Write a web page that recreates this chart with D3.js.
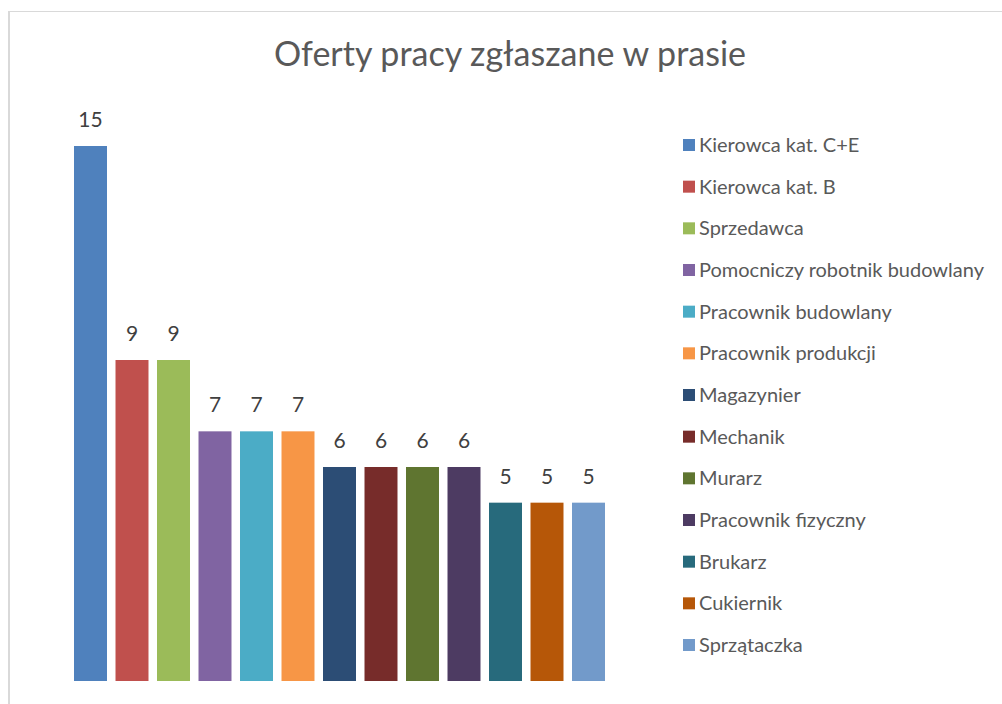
<!DOCTYPE html>
<html>
<head>
<meta charset="utf-8">
<script src="https://cdn.jsdelivr.net/npm/d3@7"></script>
<style>
  body { margin: 0; background: #fff; }
  svg text { font-family: Lato, "Open Sans", sans-serif; }
</style>
</head>
<body>
<div id="chart"></div>
<script>
  // job offers from the press
  var categories = ["Kierowca kat. C+E", "Kierowca kat. B", "Sprzedawca", "Pomocniczy robotnik budowlany",
    "Pracownik budowlany", "Pracownik produkcji", "Magazynier", "Mechanik", "Murarz",
    "Pracownik fizyczny", "Brukarz", "Cukiernik", "Sprzątaczka"];
  var values = [15, 9, 9, 7, 7, 7, 6, 6, 6, 6, 5, 5, 5];
  var colors = ["#4F81BD", "#C0504D", "#9BBB59", "#8064A2", "#4BACC6", "#F79646",
    "#2C4D75", "#772C2A", "#5F7530", "#4D3B62", "#276A7C", "#B65708", "#729ACA"];
  var title = "Oferty pracy zgłaszane w prasie";

  var width = 1002, height = 704;

  var svg = d3.select("#chart").append("svg")
    .attr("width", width)
    .attr("height", height);

  //chart frame
  svg.append("line").attr("x1", 9).attr("x2", 9).attr("y1", 11).attr("y2", height)
    .attr("stroke", "#d9d9d9").attr("stroke-width", 2);
  svg.append("line").attr("x1", 8).attr("x2", width).attr("y1", 11.5).attr("y2", 11.5)
    .attr("stroke", "#d9d9d9").attr("stroke-width", 1);

  svg.append("text")
    .attr("x", 510)
    .attr("y", 66)
    .attr("text-anchor", "middle")
    .attr("fill", "#595959")
    .style("font-size", "34px")
    .text(title);

  var x = d3.scaleBand()
    .domain(categories)
    .range([69.75, 609.25])
    .paddingInner(0.205)
    .paddingOuter(0.1025);

  var y = d3.scaleLinear()
    .domain([0, 15])
    .range([681, 146]);

  svg.append("g").selectAll("rect")
    .data(values)
    .join("rect")
    .attr("x", function (d, i) { return x(categories[i]); })
    .attr("y", function (d) { return y(d); })
    .attr("width", x.bandwidth())
    .attr("height", function (d) { return y(0) - y(d); })
    .attr("fill", function (d, i) { return colors[i]; });

  svg.append("g").selectAll("text")
    .data(values)
    .join("text")
    .attr("x", function (d, i) { return x(categories[i]) + x.bandwidth() / 2; })
    .attr("y", function (d) { return y(d) - 19; })
    .attr("text-anchor", "middle")
    .attr("fill", "#404040")
    .style("font-size", "21px")
    .text(function (d) { return d; });

  //legend
  var ly = d3.scalePoint()
    .domain(categories)
    .range([145, 645]);

  var legend = svg.append("g").selectAll("g")
    .data(categories)
    .join("g")
    .attr("transform", function (d) { return "translate(683," + ly(d) + ")"; });

  legend.append("rect")
    .attr("x", 0).attr("y", -6)
    .attr("width", 12).attr("height", 12)
    .attr("fill", function (d, i) { return colors[i]; });

  legend.append("text")
    .attr("x", 16)
    .attr("y", 7)
    .attr("fill", "#595959")
    .style("font-size", "20px")
    .text(function (d) { return d; });
</script>
</body>
</html>
